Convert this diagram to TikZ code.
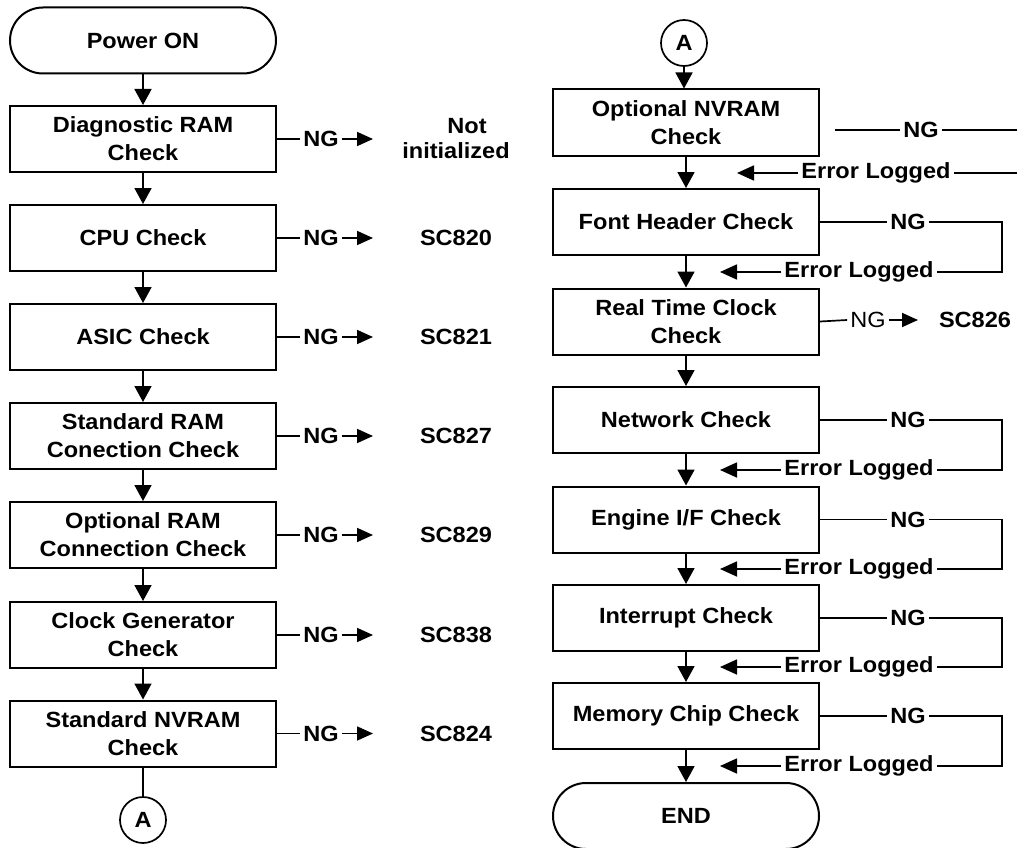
\documentclass[tikz,border=0pt]{standalone}
\usepackage{fontspec}
\setmainfont{Liberation Sans}[FakeStretch=1.07]
\usetikzlibrary{arrows.meta}
\begin{document}
\begin{tikzpicture}[x=1pt,y=-1pt,
  every node/.style={font=\fontsize{22}{28}\selectfont\bfseries},
  proc/.style={draw, line width=2pt, minimum width=266pt, minimum height=66pt, inner sep=0pt, align=center},
  term/.style={proc, rounded corners=33pt},
  conn/.style={draw, circle, line width=1.7pt, minimum size=46pt, inner sep=0pt},
  flow/.style={line width=1.7pt, -{Triangle[length=16pt,width=17pt]}},
  ngarr/.style={line width=1.7pt, -{Triangle[length=16pt,width=14pt]}},
  errarr/.style={line width=1.7pt, -{Triangle[length=17pt,width=15pt]}},
  wire/.style={line width=1.7pt},
  lbl/.style={inner sep=3pt}
]
\useasboundingbox (0,0) rectangle (1017,848);

% ---------- left column ----------
\node[term] (pwr) at (143,40.5) {Power ON};
\node[proc] (d1) at (143,139) {Diagnostic RAM\\Check};
\node[proc] (d2) at (143,238) {CPU Check};
\node[proc] (d3) at (143,337) {ASIC Check};
\node[proc] (d4) at (143,436) {Standard RAM\\Conection Check};
\node[proc] (d5) at (143,535) {Optional RAM\\Connection Check};
\node[proc] (d6) at (143,635) {Clock Generator\\Check};
\node[proc] (d7) at (143,733.5) {Standard NVRAM\\Check};
\node[conn] (A1) at (143,820) {A};

\draw[flow] (pwr) -- (d1);
\draw[flow] (d1) -- (d2);
\draw[flow] (d2) -- (d3);
\draw[flow] (d3) -- (d4);
\draw[flow] (d4) -- (d5);
\draw[flow] (d5) -- (d6);
\draw[flow] (d6) -- (d7);
\draw[wire] (d7) -- (A1);

\foreach \b/\y/\lab [count=\i] in {d1/139/{\hspace*{22pt}Not\\[-3pt]initialized}, d2/238/SC820, d3/337/SC821, d4/436/SC827, d5/535/SC829, d6/635/SC838, d7/733.5/SC824}{
  \node[lbl] (ng\i) at (321,\y) {NG};
  \coordinate (t\i) at (373,\y);
  \node[align=center] (r\i) at (456,\y) {\lab};
  \draw[wire] (\b.east) -- (ng\i.west);
  \draw[ngarr] (ng\i.east) -- (t\i);
}

% ---------- right column ----------
\node[conn] (A2) at (684,43) {A};
\node[proc] (e1) at (686,122.5) {Optional NVRAM\\Check};
\node[proc] (e2) at (686,222) {Font Header Check};
\node[proc] (e3) at (686,321.5) {Real Time Clock\\Check};
\node[proc] (e4) at (686,420) {Network Check};
\node[proc] (e5) at (686,519.5) {Engine I/F Check};
\node[proc] (e6) at (686,618) {Interrupt Check};
\node[proc] (e7) at (686,716) {Memory Chip Check};
\node[term] (end) at (686,816) {END};

\draw[flow] (A2.south) -- (A2.south |- e1.north);
\draw[flow] (e1) -- (e2);
\draw[flow] (e2) -- (e3);
\draw[flow] (e3) -- (e4);
\draw[flow] (e4) -- (e5);
\draw[flow] (e5) -- (e6);
\draw[flow] (e6) -- (e7);
\draw[flow] (e7) -- (end);

% top (cut-off) loop of Optional NVRAM
\coordinate (p1) at (835,130);
\node[lbl] (n1) at (921,130) {NG};
\coordinate (p2) at (1017,130);
\draw[wire] (p1) -- (n1.west) (n1.east) -- (p2);
\coordinate (p3) at (1017,173);
\node[lbl] (g1) at (876,173) {Error Logged};
\coordinate (h1) at (737,173);
\draw[wire] (p3) -- (g1.east);
\draw[errarr] (g1.west) -- (h1);

% loops with error logged
\foreach \b/\ny/\ey [count=\i from 2] in {e2/222/272, e4/420/470, e5/519.5/569, e6/618/667, e7/716/766}{
  \node[lbl] (n\i) at (908,\ny) {NG};
  \node[lbl] (g\i) at (859,\ey) {Error Logged};
  \coordinate (k\i) at (1002,\ny);
  \coordinate (h\i) at (720,\ey);
  \draw[wire] (\b.east) -- (n\i.west) (n\i.east) -- (k\i) |- (g\i.east);
  \draw[errarr] (g\i.west) -- (h\i);
}

% Real Time Clock NG
\node[lbl, font=\fontsize{22}{28}\selectfont] (nr) at (868,320) {NG};
\coordinate (tr) at (918,320);
\node (sr) at (975,320) {SC826};
\draw[wire] (e3.east) -- (nr.west);
\draw[ngarr] (nr.east) -- (tr);
\end{tikzpicture}
\end{document}
